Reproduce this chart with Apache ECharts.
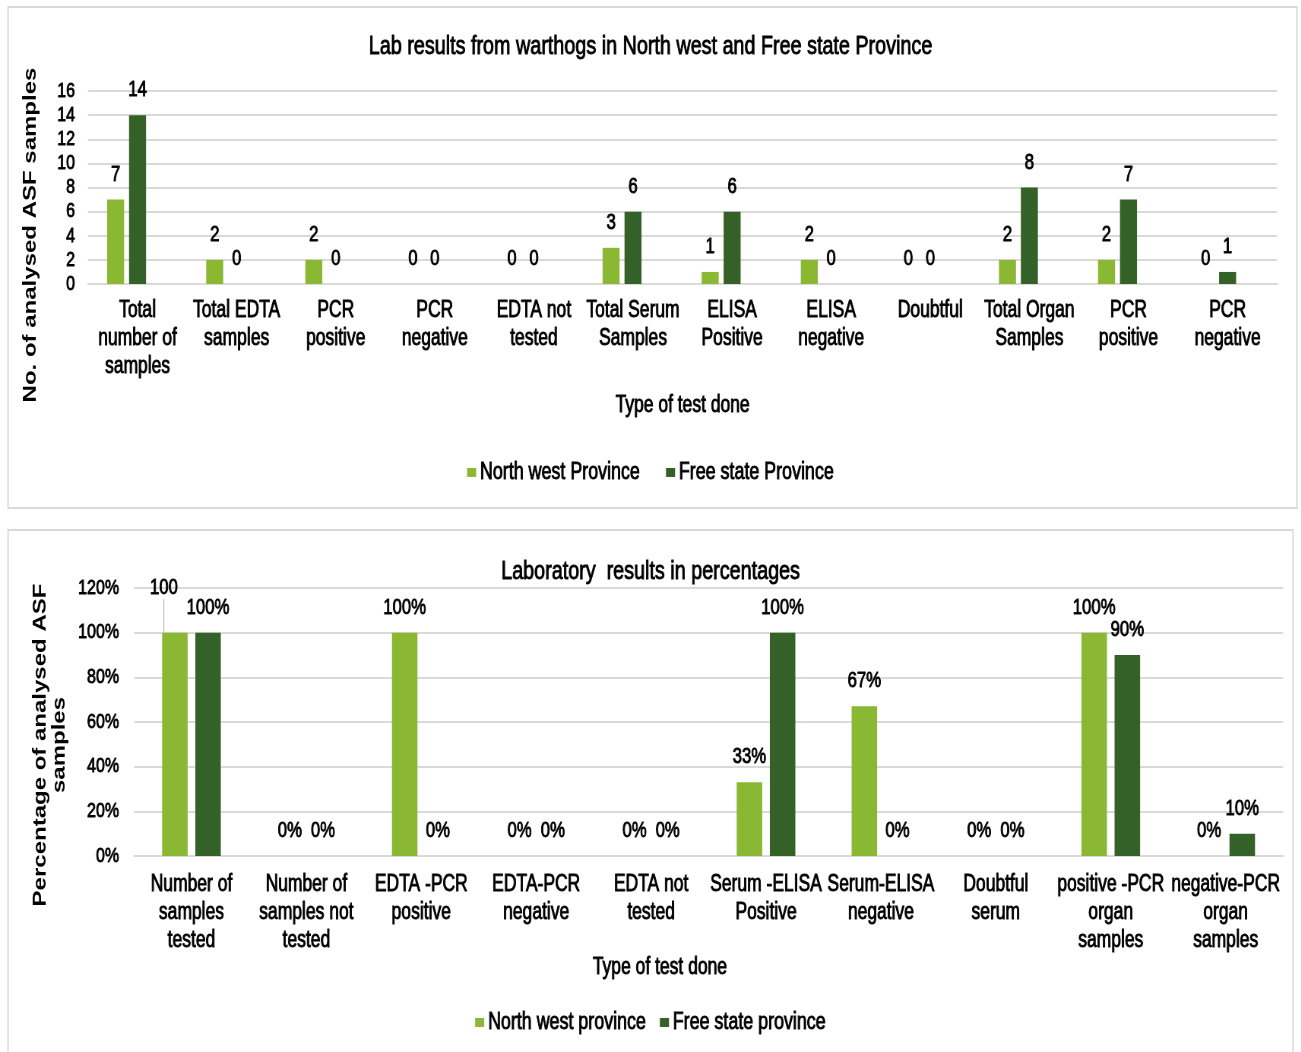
<!DOCTYPE html>
<html>
<head>
    <meta charset="utf-8">
    <script src="https://cdn.jsdelivr.net/npm/echarts@6/dist/echarts.min.js"></script>
    <style>
        html, body { margin: 0; padding: 0; background: #fff; overflow: hidden; }
        /* the original figure is squeezed sideways, so the chart is drawn wide and squeezed the same way */
        #main { transform: scaleX(0.76); transform-origin: 0 0; }
    </style>
</head>
<body>
    <div id="main" style="width: 1712px;height:1052px;"></div>
    <script type="text/javascript">
        // top chart: counts
        var countCategories = ['Total\nnumber of\nsamples', 'Total EDTA\nsamples', 'PCR\npositive', 'PCR\nnegative',
            'EDTA not\ntested', 'Total Serum\nSamples', 'ELISA\nPositive', 'ELISA\nnegative', 'Doubtful',
            'Total Organ\nSamples', 'PCR\npositive', 'PCR\nnegative'];
        var nwCounts = [7, 2, 2, 0, 0, 3, 1, 2, 0, 2, 2, 0];
        var fsCounts = [14, 0, 0, 0, 0, 6, 6, 0, 0, 8, 7, 1];
        var countTicks = { min: 0, max: 16, interval: 2 };

        // bottom chart: percentages
        var pctCategories = ['Number of\nsamples\ntested', 'Number of\nsamples not\ntested', 'EDTA -PCR\npositive',
            'EDTA-PCR\nnegative', 'EDTA not\ntested', 'Serum -ELISA\nPositive', 'Serum-ELISA\nnegative',
            'Doubtful\nserum', 'positive -PCR\norgan\nsamples', 'negative-PCR\norgan\nsamples'];
        var nwPct = [100, 0, 100, 0, 0, 33, 67, 0, 100, 0];
        var fsPct = [100, 0, 0, 0, 0, 100, 0, 0, 90, 10];
        var pctTicks = { min: 0, max: 120, interval: 20 };

        var lightGreen = '#8ab833';
        var darkGreen = '#336127';
        var gridGray = '#d9d9d9';
        var font = "'Liberation Sans', Arial, sans-serif";
        var S = 0.76; // horizontal squeeze, see css
        function px(x) { return x / S; }

        // the source text is heavy; a thin black outline thickens it without widening it
        function txt(size, extra) {
            return Object.assign({
                color: '#000',
                fontFamily: font,
                fontSize: size,
                fontWeight: 'normal',
                textBorderColor: '#000',
                textBorderWidth: 0.9
            }, extra || {});
        }

        var myChart = echarts.init(document.getElementById('main'));

        // the first light bar in the % chart has its label pulled up-left with a leader line
        var nwPctData = nwPct.map(function (v, i) {
            if (i === 0) {
                return {
                    value: v,
                    label: { formatter: '100' },
                    labelLine: { show: true, lineStyle: { color: '#a6a6a6', width: 1 } }
                };
            }
            return v;
        });

        function xAxisOf(gridIndex, cats, margin) {
            return {
                gridIndex: gridIndex,
                type: 'category',
                data: cats,
                axisTick: { show: false },
                axisLine: { lineStyle: { color: gridGray, width: 2 } },
                axisLabel: txt(23, { interval: 0, lineHeight: 28, margin: margin }),
                name: 'Type of test done',
                nameLocation: 'middle',
                nameTextStyle: txt(23)
            };
        }

        function yAxisOf(gridIndex, ticks, fmt, margin) {
            return {
                gridIndex: gridIndex,
                type: 'value',
                min: ticks.min,
                max: ticks.max,
                interval: ticks.interval,
                axisLine: { show: false },
                axisTick: { show: false },
                splitLine: { lineStyle: { color: gridGray, width: 2 } },
                axisLabel: txt(21, { formatter: fmt, margin: margin })
            };
        }

        var barLabel = txt(22, { show: true, position: 'top', distance: 14 });

        var xTop = xAxisOf(0, countCategories, 13);
        xTop.nameGap = 110;
        var xBottom = xAxisOf(1, pctCategories, 15);
        xBottom.nameGap = 98;
        xBottom.nameTextStyle.padding = [0, 128, 0, 0];

        option = {
            animation: false,
            title: [
                {
                    text: 'Lab results from warthogs in North west and Free state Province',
                    left: 'center',
                    top: 29,
                    textStyle: txt(26)
                },
                {
                    text: 'Laboratory  results in percentages',
                    left: 'center',
                    top: 554,
                    textStyle: txt(26)
                }
            ],
            legend: [
                {
                    data: ['North west Province', 'Free state Province'],
                    left: 'center',
                    top: 455,
                    icon: 'rect',
                    itemWidth: 12,
                    itemHeight: 9,
                    itemGap: 34,
                    textStyle: txt(23.5)
                },
                {
                    data: ['North west province', 'Free state province'],
                    left: 'center',
                    top: 1005,
                    icon: 'rect',
                    itemWidth: 12,
                    itemHeight: 9,
                    itemGap: 18,
                    textStyle: txt(23.5)
                }
            ],
            grid: [
                { left: px(88), right: px(1301 - 1277), top: 91, height: 193 },
                { left: px(134), right: px(1301 - 1283), top: 588, height: 268 }
            ],
            xAxis: [xTop, xBottom],
            yAxis: [
                yAxisOf(0, countTicks, '{value}', px(13)),
                yAxisOf(1, pctTicks, '{value}%', px(15))
            ],
            graphic: [
                {
                    type: 'rect',
                    shape: { x: px(8), y: 7, width: px(1289), height: 501 },
                    style: { fill: 'none', stroke: gridGray, lineWidth: 2 },
                    silent: true
                },
                {
                    type: 'rect',
                    shape: { x: px(8), y: 530, width: px(1285), height: 540 },
                    style: { fill: 'none', stroke: gridGray, lineWidth: 2 },
                    silent: true
                },
                {
                    type: 'text',
                    x: px(31),
                    y: 235,
                    rotation: Math.PI / 2,
                    style: {
                        text: 'No. of analysed ASF samples',
                        fill: '#000',
                        font: "bold 24px 'Liberation Sans', Arial, sans-serif",
                        textAlign: 'center',
                        textVerticalAlign: 'middle'
                    }
                },
                {
                    type: 'text',
                    x: px(50),
                    y: 745,
                    rotation: Math.PI / 2,
                    style: {
                        text: 'Percentage of analysed ASF\nsamples',
                        fill: '#000',
                        font: "bold 24px 'Liberation Sans', Arial, sans-serif",
                        lineHeight: 25,
                        textAlign: 'center',
                        textVerticalAlign: 'middle'
                    }
                }
            ],
            series: [
                {
                    name: 'North west Province',
                    type: 'bar',
                    xAxisIndex: 0,
                    yAxisIndex: 0,
                    barWidth: px(17),
                    barGap: '29%',
                    itemStyle: { color: lightGreen },
                    label: barLabel,
                    data: nwCounts
                },
                {
                    name: 'Free state Province',
                    type: 'bar',
                    xAxisIndex: 0,
                    yAxisIndex: 0,
                    barWidth: px(17),
                    barGap: '29%',
                    itemStyle: { color: darkGreen },
                    label: barLabel,
                    data: fsCounts
                },
                { // empty third slot, the original chart keeps room for it
                    name: 'spacer',
                    type: 'bar',
                    xAxisIndex: 0,
                    yAxisIndex: 0,
                    barWidth: px(17),
                    barGap: '29%',
                    silent: true,
                    data: countCategories.map(function () { return '-'; })
                },
                {
                    name: 'North west province',
                    type: 'bar',
                    xAxisIndex: 1,
                    yAxisIndex: 1,
                    barWidth: px(25.5),
                    barGap: '30%',
                    itemStyle: { color: lightGreen },
                    label: Object.assign({}, barLabel, { formatter: '{c}%' }),
                    labelLayout: function (params) {
                        if (params.dataIndex === 0) {
                            return { dx: px(-11), dy: -20 };
                        }
                        return {};
                    },
                    data: nwPctData
                },
                {
                    name: 'Free state province',
                    type: 'bar',
                    xAxisIndex: 1,
                    yAxisIndex: 1,
                    barWidth: px(25.5),
                    barGap: '30%',
                    itemStyle: { color: darkGreen },
                    label: Object.assign({}, barLabel, { formatter: '{c}%' }),
                    data: fsPct
                }
            ]
        };
        myChart.setOption(option);
    </script>
</body>
</html>
